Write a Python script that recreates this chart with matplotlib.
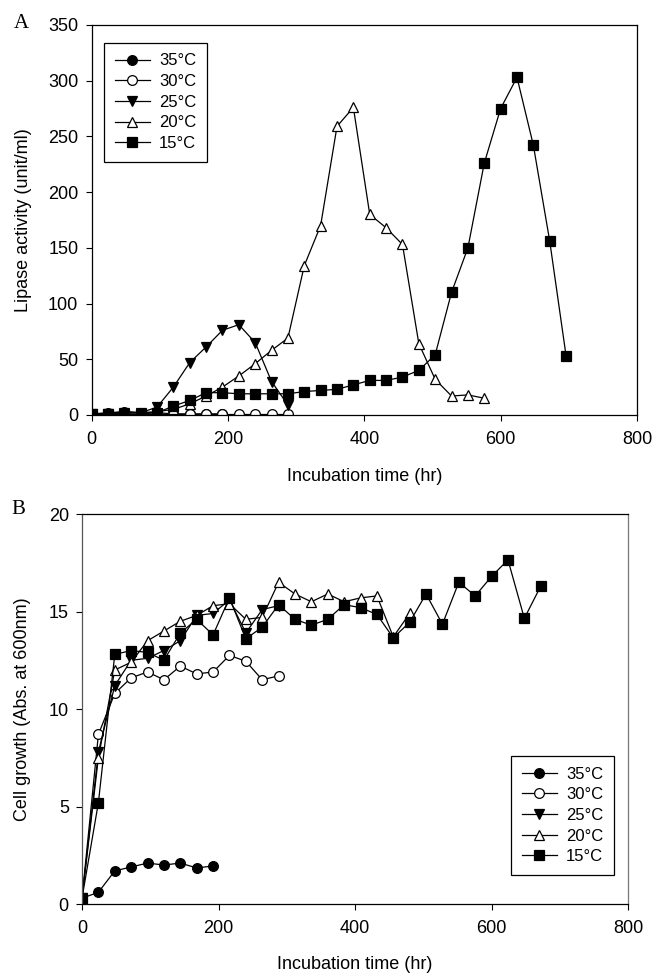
import numpy as np
import matplotlib
matplotlib.use("Agg")
import matplotlib.pyplot as plt

plt.rcParams['font.family'] = ['Liberation Sans', 'DejaVu Sans']

# ==========================================
# DATI
# ==========================================
ETICHETTE = ["35°C", "30°C", "25°C", "20°C", "15°C"]

# --- Pannello A: attivita' lipasica (unit/ml) ---
t_a_35 = [0, 24, 48, 72, 96, 120, 144, 168, 192]
a_35 = [1, 2, 3, 2, 2, 1, 1, 1, 1]
t_a_30 = [0, 24, 48, 72, 96, 120, 144, 168, 192, 216, 240, 264, 288]
a_30 = [1, 1, 1, 1, 1, 1, 1, 1, 1, 1, 1, 1, 1]
t_a_25 = [0, 24, 48, 72, 96, 120, 144, 168, 192, 216, 240, 264, 288]
a_25 = [1, 1, 2, 2, 7, 25, 47, 61, 76, 81, 65, 30, 9]
t_a_20 = [0, 24, 48, 72, 96, 120, 144, 168, 192, 216, 240, 264, 288, 312, 336, 360, 384,
          408, 432, 456, 480, 504, 528, 552, 576]
a_20 = [1, 1, 3, 2, 3, 5, 10, 17, 25, 35, 46, 58, 69, 134, 170, 259, 276,
        180, 168, 153, 64, 32, 17, 18, 15]
t_a_15 = [0, 24, 48, 72, 96, 120, 144, 168, 192, 216, 240, 264, 288, 312, 336, 360, 384,
          408, 432, 456, 480, 504, 528, 552, 576, 600, 624, 648, 672, 696]
a_15 = [1, 1, 1, 1, 2, 8, 13, 20, 20, 19, 19, 19, 19, 21, 22, 23, 27,
        31, 31, 34, 40, 54, 110, 150, 226, 275, 303, 242, 156, 53]

# --- Pannello B: crescita cellulare (Abs 600nm) ---
t_b_35 = [0, 24, 48, 72, 96, 120, 144, 168, 192]
b_35 = [0.3, 0.6, 1.7, 1.9, 2.1, 2.0, 2.1, 1.85, 1.95]
t_b_30 = [0, 24, 48, 72, 96, 120, 144, 168, 192, 216, 240, 264, 288]
b_30 = [0.3, 8.7, 10.8, 11.6, 11.9, 11.5, 12.2, 11.8, 11.9, 12.75, 12.45, 11.5, 11.7]
t_b_25 = [0, 24, 48, 72, 96, 120, 144, 168, 192, 216, 240, 264, 288]
b_25 = [0.3, 7.8, 11.2, 12.5, 12.6, 13.0, 13.5, 14.8, 14.9, 15.6, 13.9, 15.1, 15.3]
t_b_20 = [0, 24, 48, 72, 96, 120, 144, 168, 192, 216, 240, 264, 288, 312, 336, 360, 384,
          408, 432, 456, 480]
b_20 = [0.3, 7.5, 12.0, 12.4, 13.5, 14.0, 14.5, 14.8, 15.3, 15.4, 14.6, 14.7, 16.5, 15.9,
        15.5, 15.9, 15.5, 15.7, 15.8, 13.7, 14.9]
t_b_15 = [0, 24, 48, 72, 96, 120, 144, 168, 192, 216, 240, 264, 288, 312, 336, 360, 384,
          408, 432, 456, 480, 504, 528, 552, 576, 600, 624, 648, 672]
b_15 = [0.3, 5.2, 12.8, 13.0, 12.9, 12.5, 13.9, 14.6, 13.8, 15.7, 13.6, 14.2, 15.35, 14.6,
        14.3, 14.6, 15.35, 15.2, 14.85, 13.65, 14.45, 15.9, 14.35, 16.5, 15.8, 16.8, 17.65,
        14.65, 16.3]

# stili: (marker, riempimento)
STILI = [('o', 'black'), ('o', 'white'), ('v', 'black'), ('^', 'white'), ('s', 'black')]


def disegna(ax, serie):
    for (t, y), (mk, fc), lab in zip(serie, STILI, ETICHETTE):
        ax.plot(t, y, color='black', lw=0.9, marker=mk, ms=7.5 if mk != 'o' else 7,
                mfc=fc, mec='black', mew=0.9, label=lab)


def legenda(ax, loc, anchor):
    leg = ax.legend(loc=loc, bbox_to_anchor=anchor, borderaxespad=0,
                    fontsize=12, handlelength=2.1, fancybox=False, edgecolor='black',
                    framealpha=1, borderpad=0.65, labelspacing=0.34, handletextpad=0.55)
    leg.get_frame().set_linewidth(0.9)
    return leg


fig = plt.figure(figsize=(6.54, 9.75), dpi=100)
ax_a = fig.add_axes([0.140, 0.5744, 0.834, 0.400])
ax_b = fig.add_axes([0.1254, 0.0728, 0.835, 0.400])

disegna(ax_a, [(t_a_35, a_35), (t_a_30, a_30), (t_a_25, a_25), (t_a_20, a_20), (t_a_15, a_15)])
disegna(ax_b, [(t_b_35, b_35), (t_b_30, b_30), (t_b_25, b_25), (t_b_20, b_20), (t_b_15, b_15)])

ax_a.set_xlim(0, 800)
ax_a.set_ylim(0, 350)
ax_a.set_xticks(np.arange(0, 801, 200))
ax_a.set_yticks(np.arange(0, 351, 50))
ax_a.set_xlabel("Incubation time (hr)", fontsize=13)
ax_a.set_ylabel("Lipase activity (unit/ml)", fontsize=13)
ax_a.xaxis.set_label_coords(0.5, -0.136)
ax_a.yaxis.set_label_coords(-0.1095, 0.5)

ax_b.set_xlim(0, 800)
ax_b.set_ylim(0, 20)
ax_b.set_xticks(np.arange(0, 801, 200))
ax_b.set_yticks(np.arange(0, 21, 5))
ax_b.set_xlabel("Incubation time (hr)", fontsize=13)
ax_b.set_ylabel("Cell growth (Abs. at 600nm)", fontsize=13)
ax_b.xaxis.set_label_coords(0.5, -0.133)
ax_b.yaxis.set_label_coords(-0.0934, 0.5)

for ax in (ax_a, ax_b):
    ax.tick_params(direction='out', length=4.5, width=0.8, labelsize=13)
    ax.tick_params(axis='x', pad=7)
    ax.tick_params(axis='y', pad=5)
    for sp in ax.spines.values():
        sp.set_linewidth(0.9)

ax_b.spines['left'].set_color('#555555')
ax_b.spines['right'].set_color('#777777')

legenda(ax_a, 'upper left', (0.023, 0.955))
legenda(ax_b, 'lower right', (0.974, 0.074))

fig.text(21 / 654, 1 - 23 / 975, "A", family='Liberation Serif', fontsize=15, va='center', ha='center')
fig.text(18 / 654, 1 - 510 / 975, "B", family='Liberation Serif', fontsize=15, va='center', ha='center')

fig.savefig("out.png", dpi=100)
